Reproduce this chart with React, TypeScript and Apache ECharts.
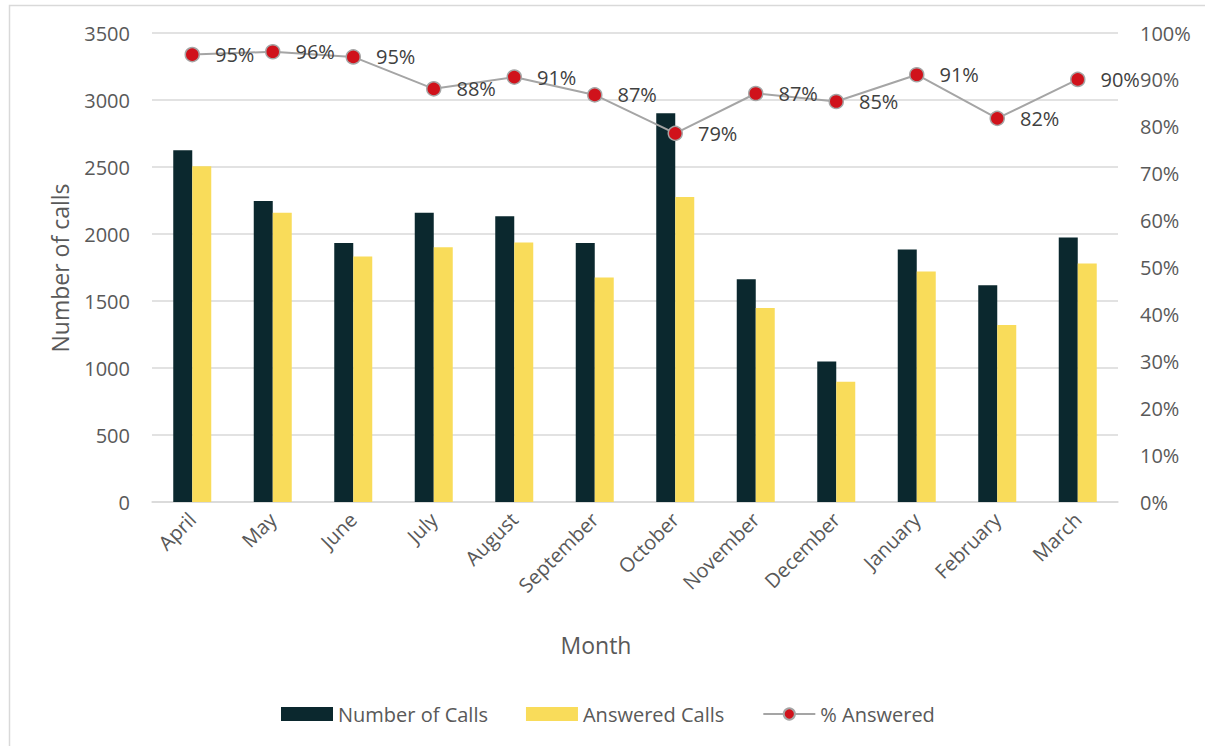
import React, { useEffect, useRef } from "react";
import * as echarts from "echarts";

const months = ["April", "May", "June", "July", "August", "September", "October", "November", "December", "January", "February", "March"];
const numberOfCalls = [2625, 2247, 1932, 2158, 2133, 1932, 2901, 1663, 1049, 1885, 1618, 1974];
const answeredCalls = [2506, 2158, 1832, 1902, 1937, 1676, 2277, 1447, 897, 1720, 1320, 1780];
const pctAnswered = [95.4, 96.0, 94.9, 88.1, 90.6, 86.8, 78.6, 87.1, 85.4, 91.1, 81.8, 90.1];

const FONT = "'Open Sans', 'Noto Sans', sans-serif";
const AXIS_TEXT = "#595959";

export default function App() {
  const ref = useRef<HTMLDivElement>(null);
  useEffect(() => {
    if (!ref.current) return;
    const chart = echarts.init(ref.current, null, { renderer: "svg" });
    chart.setOption({
      animation: false,
      backgroundColor: "#ffffff",
      textStyle: { fontFamily: FONT },
      grid: { left: 152, right: 87, top: 33, bottom: 244, containLabel: false },
      legend: {
        left: 276,
        top: 699,
        itemWidth: 52,
        itemHeight: 14,
        itemGap: 38,
        textStyle: { fontFamily: FONT, fontSize: 20, color: AXIS_TEXT },
        data: [
          { name: "Number of Calls", icon: "rect" },
          { name: "Answered Calls", icon: "rect" },
          { name: "% Answered" },
        ],
      },
      xAxis: {
        type: "category",
        data: months,
        axisTick: { show: false },
        axisLine: { lineStyle: { color: "#D9D9D9", width: 1.5 } },
        axisLabel: { rotate: 45, margin: 14, fontSize: 20, color: AXIS_TEXT, fontFamily: FONT, interval: 0 },
      },
      yAxis: [
        {
          type: "value",
          min: 0,
          max: 3500,
          interval: 500,
          axisLine: { show: false },
          axisTick: { show: false },
          axisLabel: { margin: 22, fontSize: 20, color: AXIS_TEXT, fontFamily: FONT, formatter: (v: number) => String(v) },
          splitLine: { lineStyle: { color: "#D9D9D9", width: 1.5 } },
        },
        {
          type: "value",
          min: 0,
          max: 100,
          interval: 10,
          position: "right",
          axisLine: { show: false },
          axisTick: { show: false },
          splitLine: { show: false },
          axisLabel: { margin: 22, fontSize: 20, color: AXIS_TEXT, fontFamily: FONT, formatter: "{value}%" },
        },
      ],
      series: [
        {
          name: "Number of Calls",
          type: "bar",
          data: numberOfCalls,
          barWidth: 19,
          barGap: "0%",
          itemStyle: { color: "#0B282E" },
        },
        {
          name: "Answered Calls",
          type: "bar",
          data: answeredCalls,
          barWidth: 19,
          itemStyle: { color: "#F9DC5A" },
        },
        {
          name: "% Answered",
          type: "line",
          yAxisIndex: 1,
          data: pctAnswered,
          symbol: "circle",
          symbolSize: 14,
          lineStyle: { color: "#A5A5A5", width: 2 },
          itemStyle: { color: "#D0121B", borderColor: "#A5A5A5", borderWidth: 1.5 },
          label: {
            show: true,
            position: "right",
            distance: 15,
            fontSize: 20,
            color: "#404040",
            fontFamily: FONT,
            formatter: (p: any) => Math.round(p.value) + "%",
          },
          z: 5,
        },
      ],
      graphic: [
        {
          type: "rect",
          left: 7,
          top: 3,
          shape: { width: 1300, height: 800 },
          style: { fill: "none", stroke: "#D9D9D9", lineWidth: 1.5 },
          silent: true,
        },
        {
          type: "text",
          x: 596,
          y: 645,
          style: { text: "Month", fontSize: 23, fill: AXIS_TEXT, fontFamily: FONT, align: "center", verticalAlign: "middle" },
        },
        {
          type: "text",
          x: 60,
          y: 268,
          rotation: Math.PI / 2,
          style: { text: "Number of calls", fontSize: 23, fill: AXIS_TEXT, fontFamily: FONT, align: "center", verticalAlign: "middle" },
        },
      ],
    });
    return () => chart.dispose();
  }, []);
  return <div ref={ref} style={{ position: "fixed", left: 0, top: 0, width: 1205, height: 746 }} />;
}
